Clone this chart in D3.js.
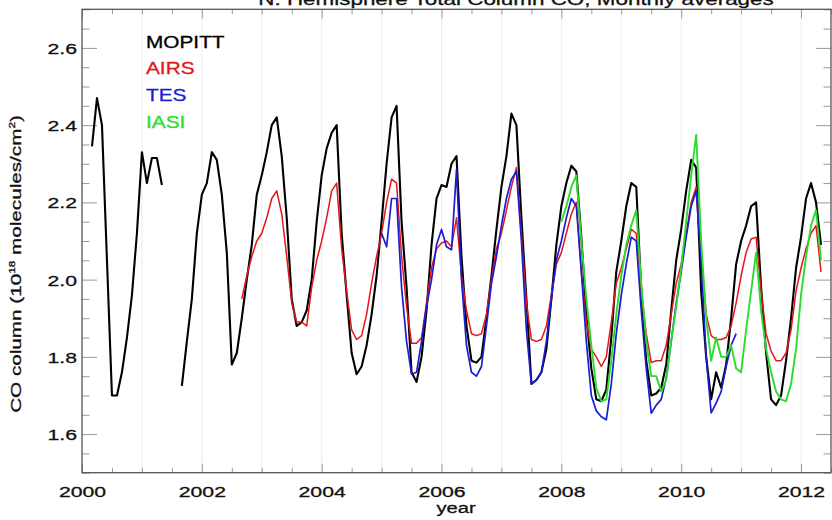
<!DOCTYPE html>
<html>
<head>
<meta charset="utf-8">
<script src="https://cdn.jsdelivr.net/npm/d3@7"></script>
<style>
  html, body { margin: 0; padding: 0; background: #fff; }
  svg { display: block; font-family: "Liberation Sans", Arial, Helvetica, sans-serif; }
  svg text { stroke-width: 0.3px; paint-order: stroke; }
</style>
</head>
<body>
<svg id="chart" width="832" height="520"></svg>
<script>
// monthly means, first value of each array belongs to the start month
const mopittStart = 2000 + 2 / 12; // Mar 2000
const mopitt = [
  2.345, 2.47, 2.40, 2.05, 1.70, 1.70, 1.76, 1.85, 1.96, 2.12,
  2.33, 2.25, 2.315, 2.315, 2.245, null, null, null, 1.725, 1.84, 1.95, 2.12,
  2.22, 2.25, 2.33, 2.31, 2.22, 2.07, 1.78, 1.81, 1.90, 2.00, 2.09, 2.22,
  2.27, 2.33, 2.40, 2.42, 2.32, 2.16, 1.95, 1.88, 1.89, 1.92, 2.00, 2.15,
  2.27, 2.34, 2.38, 2.40, 2.12, 1.96, 1.81, 1.755, 1.775, 1.83, 1.91, 2.01,
  2.15, 2.30, 2.42, 2.45, 2.15, 1.98, 1.76, 1.735, 1.80, 1.92, 2.09, 2.21,
  2.245, 2.24, 2.30, 2.32, 2.06, 1.88, 1.79, 1.785, 1.80, 1.90, 2.01, 2.13,
  2.24, 2.32, 2.43, 2.40, 2.16, 1.95, 1.73, 1.74, 1.76, 1.82, 1.95, 2.09,
  2.19, 2.25, 2.295, 2.28, 2.11, 1.91, 1.77, 1.69, 1.685, 1.715, 1.85, 2.02,
  2.10, 2.19, 2.25, 2.24, 1.97, 1.79, 1.70, 1.705, 1.72, 1.78, 1.92, 2.05,
  2.13, 2.23, 2.31, 2.29, 1.97, 1.80, 1.69, 1.76, 1.72, 1.78, 1.90, 2.04,
  2.10, 2.14, 2.19, 2.20, 1.98, 1.81, 1.69, 1.675, 1.70, 1.79, 1.90, 2.03,
  2.11, 2.21, 2.25, 2.20, 2.09
];

const airsStart = 2002 + 8 / 12; // Sep 2002
const airs = [
  1.95, 2.01, 2.06, 2.10,
  2.12, 2.16, 2.21, 2.23, 2.17, 2.06, 1.94, 1.89, 1.89, 1.88, 1.98, 2.05,
  2.10, 2.16, 2.23, 2.25, 2.08, 1.97, 1.87, 1.845, 1.855, 1.91, 1.99, 2.06,
  2.12, 2.20, 2.26, 2.25, 2.06, 1.93, 1.835, 1.835, 1.85, 1.94, 2.03, 2.08,
  2.095, 2.10, 2.085, 2.16, 2.01, 1.92, 1.86, 1.855, 1.86, 1.91, 2.00, 2.08,
  2.12, 2.18, 2.24, 2.29, 2.12, 1.94, 1.845, 1.84, 1.845, 1.88, 1.96, 2.04,
  2.07, 2.12, 2.17, 2.20, 2.02, 1.89, 1.82, 1.80, 1.775, 1.80, 1.89, 1.99,
  2.03, 2.08, 2.13, 2.12, 1.97, 1.86, 1.785, 1.79, 1.79, 1.83, 1.91, 1.99,
  2.04, 2.12, 2.20, 2.24, 2.07, 1.91, 1.855, 1.845, 1.845, 1.85, 1.88, 1.94,
  2.01, 2.07, 2.105, 2.11, 1.97, 1.86, 1.815, 1.79, 1.79, 1.81, 1.87, 1.97,
  2.03, 2.08, 2.12, 2.14, 2.02
];

const tesStart = 2005; // Jan 2005
const tes = [
  2.12, 2.085, 2.21, 2.21, 1.98, 1.84, 1.755, 1.76, 1.84, 1.93, 2.00, 2.09,
  2.13, 2.085, 2.077, 2.285, 2.00, 1.83, 1.76, 1.75, 1.775, 1.88, 1.99, 2.06,
  2.14, 2.21, 2.26, 2.28, 2.10, 1.87, 1.73, 1.74, 1.76, 1.84, 1.95, 2.05,
  2.10, 2.16, 2.21, 2.19, 2.02, 1.84, 1.70, 1.66, 1.645, 1.637, 1.73, 1.86,
  1.96, 2.04, 2.11, 2.10, 1.92, 1.77, 1.654, 1.675, 1.69, 1.745, 1.84, 1.94,
  2.02, 2.11, 2.19, 2.23, 2.05, 1.80, 1.655, 1.68, 1.71, 1.775, 1.83, 1.86
];

const iasiStart = 2008; // Jan 2008
const iasi = [
  2.15, 2.19, 2.24, 2.27, 2.10, 1.95, 1.83, 1.72, 1.685, 1.69, 1.79, 1.91,
  2.01, 2.09, 2.14, 2.18, 1.99, 1.84, 1.75, 1.75, 1.71, 1.74, 1.84, 1.93,
  2.03, 2.15, 2.27, 2.375, 2.10, 1.90, 1.79, 1.85, 1.80, 1.80, 1.83, 1.77,
  1.76, 1.87, 1.97, 2.07, 1.92, 1.82, 1.76, 1.71, 1.69, 1.685, 1.73, 1.82,
  1.96, 2.06, 2.14, 2.18, 2.05
];

const xMajor = [2000, 2002, 2004, 2006, 2008, 2010, 2012];
const xMinor = [2000.5, 2001, 2001.5, 2002.5, 2003, 2003.5, 2004.5, 2005, 2005.5,
  2006.5, 2007, 2007.5, 2008.5, 2009, 2009.5, 2010.5, 2011, 2011.5, 2012.5];
const xGrid = [2001, 2002, 2003, 2004, 2005, 2006, 2007, 2008, 2009, 2010, 2011, 2012];
const yMajor = [1.6, 1.8, 2.0, 2.2, 2.4, 2.6];
const yMinor = [1.5, 1.55, 1.65, 1.7, 1.75, 1.85, 1.9, 1.95, 2.05, 2.1, 2.15,
  2.25, 2.3, 2.35, 2.45, 2.5, 2.55, 2.65, 2.7];

const series = [
  { name: "MOPITT", start: mopittStart, values: mopitt, color: "#000000", width: 2.1 },
  { name: "AIRS", start: airsStart, values: airs, color: "#e3161c", width: 1.5 },
  { name: "TES", start: tesStart, values: tes, color: "#1c1cd2", width: 1.7 },
  { name: "IASI", start: iasiStart, values: iasi, color: "#2cdc2c", width: 1.9 }
];

const plotLeft = 82, plotRight = 831, plotTop = 9.3, plotBottom = 472.7;
const stretch = 1.37;

const svg = d3.select("#chart");

const x = d3.scaleLinear().domain([2000, 2012.5]).range([plotLeft, plotRight]);
const y = d3.scaleLinear().domain([1.5, 2.7]).range([plotBottom, plotTop]);

// faint yearly grid
svg.append("g")
  .selectAll("line")
  .data(xGrid)
  .join("line")
  .attr("x1", d => x(d)).attr("x2", d => x(d))
  .attr("y1", plotTop).attr("y2", plotBottom)
  .attr("stroke", "#ededed")
  .attr("stroke-width", 1);

function styleAxis(g) {
  g.select(".domain").remove();
  g.selectAll(".tick line").attr("stroke", "#9a9a9a").attr("stroke-width", 1);
}

// x axes (bottom labelled, top mirrored)
svg.append("g")
  .attr("transform", "translate(0," + plotBottom + ")")
  .call(d3.axisBottom(x).tickValues(xMajor).tickSize(-9).tickPadding(13).tickFormat(d3.format("d")))
  .call(styleAxis)
  .call(g => g.selectAll("text")
    .attr("fill", "#111").attr("stroke", "#111").attr("font-size", 15.5)
    .attr("transform", "scale(" + stretch + ",1)"));
svg.append("g")
  .attr("transform", "translate(0," + plotBottom + ")")
  .call(d3.axisBottom(x).tickValues(xMinor).tickSize(-5).tickFormat(""))
  .call(styleAxis);
svg.append("g")
  .attr("transform", "translate(0," + plotTop + ")")
  .call(d3.axisTop(x).tickValues(xMajor).tickSize(-9).tickFormat(""))
  .call(styleAxis);
svg.append("g")
  .attr("transform", "translate(0," + plotTop + ")")
  .call(d3.axisTop(x).tickValues(xMinor).tickSize(-5).tickFormat(""))
  .call(styleAxis);

// y axes (left labelled, right mirrored)
svg.append("g")
  .attr("transform", "translate(" + plotLeft + ",0)")
  .call(d3.axisLeft(y).tickValues(yMajor).tickSize(-15).tickPadding(3.6).tickFormat(d3.format(".1f")))
  .call(styleAxis)
  .call(g => g.selectAll("text")
    .attr("fill", "#111").attr("stroke", "#111").attr("font-size", 15.5).attr("dy", "0.36em")
    .attr("transform", "scale(" + stretch + ",1)"));
svg.append("g")
  .attr("transform", "translate(" + plotLeft + ",0)")
  .call(d3.axisLeft(y).tickValues(yMinor).tickSize(-7.5).tickFormat(""))
  .call(styleAxis);
svg.append("g")
  .attr("transform", "translate(" + plotRight + ",0)")
  .call(d3.axisRight(y).tickValues(yMajor).tickSize(-15).tickFormat(""))
  .call(styleAxis);
svg.append("g")
  .attr("transform", "translate(" + plotRight + ",0)")
  .call(d3.axisRight(y).tickValues(yMinor).tickSize(-7.5).tickFormat(""))
  .call(styleAxis);

// data lines
const line = d3.line()
  .defined(d => d.v != null)
  .x(d => x(d.t))
  .y(d => y(d.v));

svg.append("g")
  .selectAll("path")
  .data(series)
  .join("path")
  .attr("fill", "none")
  .attr("stroke", d => d.color)
  .attr("stroke-width", d => d.width)
  .attr("stroke-linejoin", "round")
  .attr("d", s => line(s.values.map((v, i) => ({ t: s.start + i / 12, v: v }))));

// frame
svg.append("rect")
  .attr("x", plotLeft).attr("y", plotTop)
  .attr("width", plotRight - plotLeft).attr("height", plotBottom - plotTop)
  .attr("fill", "none")
  .attr("stroke", "#555")
  .attr("stroke-width", 1.3);

// legend
svg.append("g")
  .selectAll("text")
  .data(series)
  .join("text")
  .attr("transform", (d, i) => "translate(146," + (47.5 + i * 26.8) + ") scale(1.3,1)")
  .attr("font-size", 16)
  .attr("fill", d => d.color)
  .attr("stroke", d => d.color)
  .text(d => d.name);

// title (clipped at the top of the picture, as in the original)
svg.append("text")
  .attr("transform", "translate(516,5) scale(1.32,1)")
  .attr("text-anchor", "middle")
  .attr("font-size", 17)
  .attr("fill", "#111")
  .attr("stroke", "#111")
  .text("N. Hemisphere Total Column CO, Monthly averages");

// axis titles
svg.append("text")
  .attr("transform", "translate(456,513) scale(1.3,1)")
  .attr("text-anchor", "middle")
  .attr("font-size", 15.5)
  .attr("fill", "#111")
  .attr("stroke", "#111")
  .text("year");

const yTitle = svg.append("text")
  .attr("transform", "translate(20.5,264) rotate(-90) scale(1.38,1)")
  .attr("text-anchor", "middle")
  .attr("font-size", 15)
  .attr("fill", "#111")
  .attr("stroke", "#111");
yTitle.append("tspan").text("CO column (10");
yTitle.append("tspan").attr("font-size", 8.5).attr("dy", -6).text("18");
yTitle.append("tspan").attr("dy", 6).text(" molecules/cm");
yTitle.append("tspan").attr("font-size", 8.5).attr("dy", -6).text("2");
yTitle.append("tspan").attr("dy", 6).text(")");
</script>
</body>
</html>
